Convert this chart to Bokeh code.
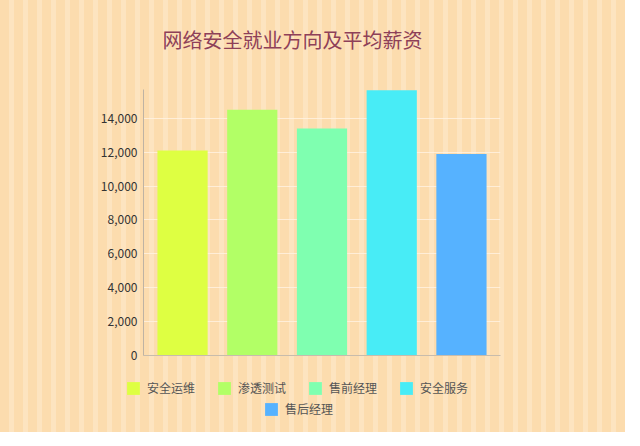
from bokeh.plotting import figure
from bokeh.layouts import column, row
from bokeh.models import FactorRange, Range1d, NumeralTickFormatter, Legend, LegendItem, FixedTicker, Label
from bokeh.embed import file_html
from bokeh.resources import INLINE

categories = ["安全运维", "渗透测试", "售前经理", "安全服务", "售后经理"]
salaries = [12100, 14500, 13400, 15650, 11900]
colors = ["#DEFF42", "#B2FF66", "#7FFFB0", "#48ECF6", "#56B2FF"]
y_ticks = [0, 2000, 4000, 6000, 8000, 10000, 12000, 14000]
title_text = "网络安全就业方向及平均薪资"

FONT = "Noto Sans CJK SC"

def bare_figure(h, **kw):
    f = figure(width=625, height=h, frame_width=625, frame_height=h,
               min_border=0, min_border_left=0, min_border_right=0,
               min_border_top=0, min_border_bottom=0,
               output_backend="svg", toolbar_location=None, **kw)
    f.xaxis.visible = False
    f.yaxis.visible = False
    f.grid.visible = False
    f.background_fill_alpha = 0
    f.border_fill_alpha = 0
    f.outline_line_color = None
    return f

# title strip
tf = bare_figure(89, x_range=Range1d(0, 1), y_range=Range1d(0, 1))
tf.add_layout(Label(
    x=162, y=50, x_units="screen", y_units="screen", text=title_text,
    text_font=FONT, text_font_size="20px", text_color="#8E4058",
    text_align="left", text_baseline="middle",
))

# chart
p = figure(
    x_range=FactorRange(*categories, range_padding=0.06, range_padding_units="absolute"),
    y_range=Range1d(0, 15700),
    width=625, height=276,
    frame_width=357, frame_height=266,
    min_border_left=143, min_border_right=125, min_border_top=0, min_border_bottom=10,
    output_backend="svg", toolbar_location=None,
)
p.background_fill_alpha = 0
p.border_fill_alpha = 0
p.outline_line_color = None

for i in range(len(categories)):
    p.vbar(x=[categories[i]], top=[salaries[i]], width=0.72, color=colors[i], line_color=None)

p.yaxis.ticker = FixedTicker(ticks=y_ticks)
p.yaxis.formatter = NumeralTickFormatter(format="0,0")
p.yaxis.major_label_text_font = FONT
p.yaxis.major_label_text_font_size = "12px"
p.yaxis.major_label_text_color = "#333333"
p.yaxis.major_tick_line_color = None
p.yaxis.minor_tick_line_color = None
p.yaxis.axis_line_color = "#BFB3A3"
p.yaxis.major_label_standoff = 0

p.xaxis.major_label_text_font_size = "0px"
p.xaxis.major_label_text_color = None
p.xaxis.major_label_standoff = 0
p.xaxis.major_tick_line_color = None
p.xaxis.major_tick_out = 0
p.xaxis.minor_tick_line_color = None
p.xaxis.axis_line_color = "#C8BCAC"

p.xgrid.grid_line_color = None
p.ygrid.grid_line_color = "#FFF3E2"
p.ygrid.grid_line_alpha = 0.8

# legend strip (swatches taken from hidden copies of the bars)
lf = bare_figure(67, x_range=FactorRange(*categories), y_range=Range1d(0, 20000))
lrs = []
for i in range(len(categories)):
    r = lf.vbar(x=[categories[i]], top=[salaries[i]], width=0.72, color=colors[i], line_color=None)
    r.visible = False
    lrs.append(r)

def make_legend(idx, loc):
    return Legend(
        items=[LegendItem(label=categories[i], renderers=[lrs[i]]) for i in idx],
        orientation="horizontal", location=loc,
        glyph_width=16, glyph_height=16, label_standoff=6, spacing=21,
        padding=0, margin=0,
        background_fill_alpha=0, border_line_alpha=0,
        inactive_fill_alpha=0,
        label_text_font=FONT, label_text_font_size="12px", label_text_color="#555555",
        label_height=16,
    )

lf.add_layout(make_legend([0, 1, 2, 3], (125, 36)))
lf.add_layout(make_legend([4], (263, 15)))

layout = column(row(tf, spacing=0), row(p, spacing=0), row(lf, spacing=0), spacing=0)
layout.styles = {"background": "repeating-linear-gradient(90deg, #FCDCAE 0px, #FCDCAE 9px, #FDE4C0 9px, #FDE4C0 14px)"}

open("out.html", "w").write(file_html(layout, INLINE))
